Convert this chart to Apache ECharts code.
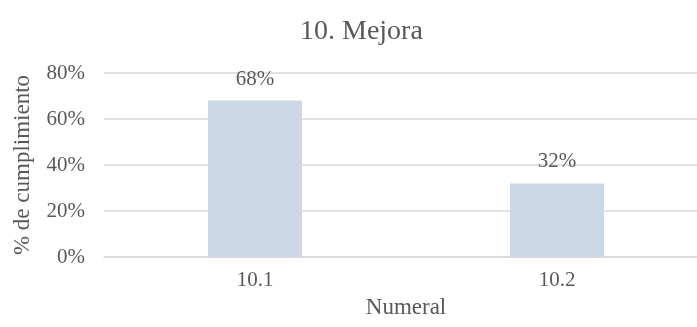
<!DOCTYPE html>
<html>
<head>
<meta charset="utf-8">
<script src="https://cdn.jsdelivr.net/npm/echarts@6/dist/echarts.min.js"></script>
<style>
  html, body { margin: 0; padding: 0; background: #fff; }
  #chart { width: 697px; height: 327px; }
</style>
</head>
<body>
<div id="chart"></div>
<script>
// Compliance by numeral, section 10
const categories = ['10.1', '10.2'];
const compliance = [68, 32];
const yTicks = [0, 20, 40, 60, 80];

const serif = '"Liberation Serif", "DejaVu Serif", serif';
const textColor = '#595959';

const chart = echarts.init(document.getElementById('chart'));
chart.setOption({
  animation: false,
  title: {
    text: '10. Mejora',
    left: 295,
    top: 13,
    textStyle: { fontFamily: serif, fontSize: 28, fontWeight: 'normal', color: textColor }
  },
  // the plot area runs past the right edge of the canvas
  grid: { left: 104, top: 73, width: 604, height: 184, containLabel: false, outerBoundsMode: 'none' },
  xAxis: {
    type: 'category',
    data: categories,
    name: 'Numeral',
    nameLocation: 'middle',
    nameGap: 39,
    nameTextStyle: { fontFamily: serif, fontSize: 23, color: textColor },
    axisLine: { lineStyle: { color: '#d9d9d9', width: 1.5 } },
    axisTick: { show: false },
    axisLabel: { fontFamily: serif, fontSize: 21, color: textColor, margin: 13 }
  },
  yAxis: {
    type: 'value',
    min: yTicks[0],
    max: yTicks[yTicks.length - 1],
    interval: 20,
    name: '% de cumplimiento',
    nameLocation: 'middle',
    nameGap: 70,
    nameTextStyle: { fontFamily: serif, fontSize: 23, color: textColor },
    axisLine: { show: false },
    axisTick: { show: false },
    splitLine: { lineStyle: { color: '#d9d9d9', width: 1.5 } },
    axisLabel: {
      fontFamily: serif, fontSize: 21, color: textColor, margin: 19,
      formatter: v => v + '%'
    }
  },
  series: [{
    type: 'bar',
    data: compliance,
    barWidth: 94,
    itemStyle: { color: '#cdd8e6' },
    label: {
      show: true,
      position: 'top',
      distance: 11,
      fontFamily: serif,
      fontSize: 21,
      color: textColor,
      formatter: p => p.value + '%'
    }
  }]
});
</script>
</body>
</html>
